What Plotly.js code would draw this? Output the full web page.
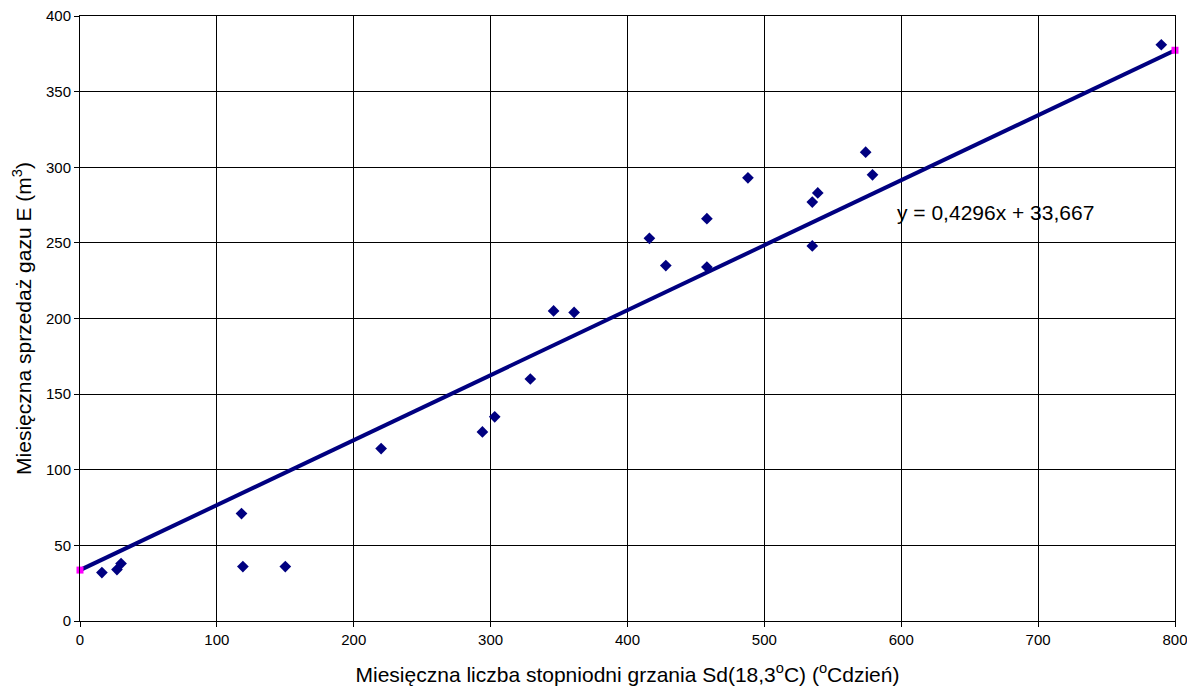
<!DOCTYPE html>
<html>
<head>
<meta charset="utf-8">
<script src="https://cdn.plot.ly/plotly-3.0.1.min.js"></script>
<style>
  html, body { margin: 0; padding: 0; background: #fff; }
  #chart { width: 1187px; height: 687px; }
</style>
</head>
<body>
<div id="chart"></div>
<script>
// Monthly heating degree-days vs. monthly gas sales
const degreeDays = [16, 27, 30, 118, 119, 150, 220, 294, 303, 329, 346, 361,
                    416, 428, 458, 458, 488, 535, 535, 539, 574, 579, 790];
const gasSales   = [32, 34, 38, 71, 36, 36, 114, 125, 135, 160, 205, 204,
                    253, 235, 234, 266, 293, 277, 248, 283, 310, 295, 381];

// Linear trend: y = slope * x + intercept
const slope = 0.4296;
const intercept = 33.667;
const trendX = [0, 800];
const trendY = trendX.map(x => slope * x + intercept);

const xTicks = [0, 100, 200, 300, 400, 500, 600, 700, 800];
const yTicks = [0, 50, 100, 150, 200, 250, 300, 350, 400];

const navy = '#000080';
const font = 'Liberation Sans, Arial, sans-serif';

const traces = [
  {
    x: trendX, y: trendY,
    type: 'scatter', mode: 'lines',
    line: { color: navy, width: 4 },
    hoverinfo: 'skip', cliponaxis: false
  },
  {
    x: trendX, y: trendY,
    type: 'scatter', mode: 'markers',
    marker: { symbol: 'square', size: 7, color: '#ff00ff' },
    cliponaxis: false
  },
  {
    x: degreeDays, y: gasSales,
    type: 'scatter', mode: 'markers',
    marker: { symbol: 'diamond', size: 9, color: navy },
    cliponaxis: false
  }
];

const layout = {
  width: 1187, height: 687,
  margin: { l: 80, r: 12, t: 16, b: 66 },
  paper_bgcolor: '#fff', plot_bgcolor: '#fff',
  showlegend: false,
  font: { family: font, color: '#000', size: 15 },
  xaxis: {
    range: [0, 800], tickvals: xTicks, ticktext: xTicks.map(String),
    showgrid: true, gridcolor: '#000', gridwidth: 1,
    zeroline: false, showline: true, linecolor: '#000', linewidth: 1, mirror: true,
    ticks: 'outside', ticklen: 5, tickcolor: '#000',
    ticklabeloverflow: 'allow',
    tickfont: { family: font, size: 15 },
    title: { text: 'Miesięczna liczba stopniodni grzania Sd(18,3<sup>o</sup>C) (<sup>o</sup>Cdzień)',
             font: { family: font, size: 21 }, standoff: 20 }
  },
  yaxis: {
    range: [0, 400], tickvals: yTicks, ticktext: yTicks.map(String),
    showgrid: true, gridcolor: '#000', gridwidth: 1,
    zeroline: false, showline: true, linecolor: '#000', linewidth: 1, mirror: true,
    ticks: 'outside', ticklen: 5, tickcolor: '#000',
    tickfont: { family: font, size: 15 },
    title: { text: 'Miesięczna sprzedaż gazu E (m<sup>3</sup>)',
             font: { family: font, size: 21 }, standoff: 8 }
  },
  annotations: [{
    x: 669, y: 270, xref: 'x', yref: 'y',
    text: 'y = 0,4296x + 33,667', showarrow: false,
    font: { family: font, size: 21, color: '#000' }
  }]
};

Plotly.newPlot('chart', traces, layout, { displayModeBar: false, staticPlot: true });
</script>
</body>
</html>
